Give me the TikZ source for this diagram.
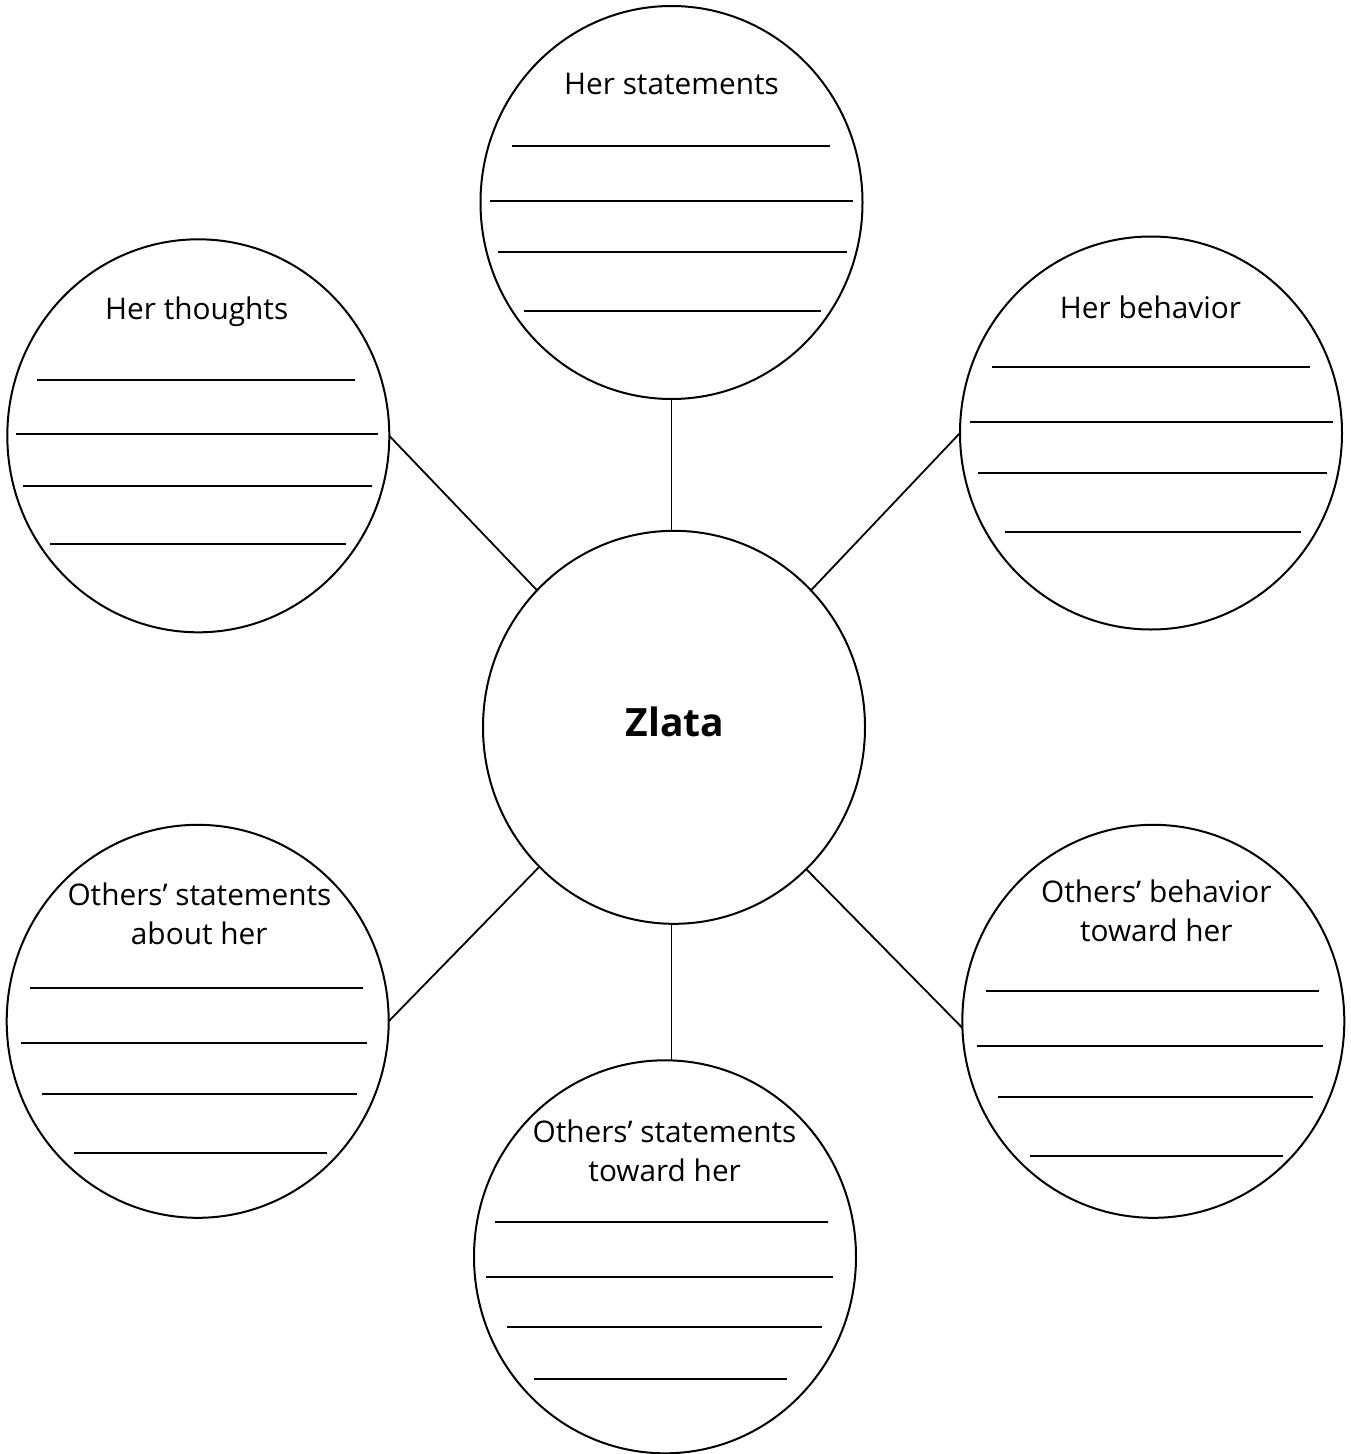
\documentclass[tikz,border=0pt]{standalone}
\usepackage{fontspec}
\setmainfont{Open Sans}
\usetikzlibrary{shapes.geometric}
\begin{document}
\begin{tikzpicture}[x=1pt,y=-1pt,
  bubble/.style={draw, ellipse, line width=2pt, minimum width=382pt, minimum height=393pt, inner sep=0pt, outer sep=0pt},
  lbltext/.style={anchor=base, inner sep=0pt, font=\fontsize{29.8}{35}\selectfont},
  blankline/.style={line width=2.2pt},
  link/.style={line width=1.8pt}]
\useasboundingbox (0,0) rectangle (1351,1454);
% bubbles
\node[bubble] (stmts)   at (671.5,202.5) {};
\node[bubble] (thoughts) at (198.3,435.8) {};
\node[bubble] (behav)   at (1151,433) {};
\node[bubble] (zl)      at (674,727.3) {};
\node[bubble] (about)   at (197.7,1021.3) {};
\node[bubble] (towB)    at (1153.3,1021.3) {};
\node[bubble] (towS)    at (665,1256.8) {};
% connectors
\draw[link] (stmts.south) -- (stmts.south |- zl.north);
\draw[link] (stmts.south |- zl.south) -- (stmts.south |- towS.north);
\draw[link] (thoughts.east) -- (zl.135);
\draw[link] (behav.west) -- (zl.45);
\draw[link] (about.east) -- (zl.226);
\draw[link] (towB.182) -- (zl.313);
% texts
\node[anchor=base, inner sep=0pt, font=\bfseries\fontsize{39}{46}\selectfont] (zltext) at (675,736) {Zlata};
\node[lbltext] (t1) at (671.5,94) {Her statements};
\node[lbltext] (t2) at (196.7,319) {Her thoughts};
\node[lbltext] (t3) at (1150.5,318.3) {Her behavior};
\node[lbltext] (t4a) at (199.5,905) {Others’ statements};
\node[lbltext] (t4b) at (199.2,944.3) {about her};
\node[lbltext] (t5a) at (1156.3,902.7) {Others’ behavior};
\node[lbltext] (t5b) at (1156.3,941.7) {toward her};
\node[lbltext] (t6a) at (664.5,1142.7) {Others’ statements};
\node[lbltext] (t6b) at (664.7,1181) {toward her};
% writing lines
\draw[blankline] (511.7,146) -- (830,146);
\draw[blankline] (490,201) -- (852.7,201);
\draw[blankline] (498.3,252.3) -- (847.3,252.3);
\draw[blankline] (524.3,311.3) -- (820.7,311.3);
\draw[blankline] (36.7,380) -- (355,380);
\draw[blankline] (15.7,434.3) -- (377.7,434.3);
\draw[blankline] (23.3,485.7) -- (372.3,485.7);
\draw[blankline] (50,544.3) -- (346,544.3);
\draw[blankline] (991.7,367) -- (1310,367);
\draw[blankline] (970,422.3) -- (1332.7,422.3);
\draw[blankline] (978.3,473) -- (1327.3,473);
\draw[blankline] (1005,532.3) -- (1300.7,532.3);
\draw[blankline] (30,988.3) -- (363.3,988.3);
\draw[blankline] (20.7,1043.3) -- (367.3,1043.3);
\draw[blankline] (42.3,1094.3) -- (356.7,1094.3);
\draw[blankline] (74,1153) -- (326.7,1153);
\draw[blankline] (986,990.7) -- (1319.3,990.7);
\draw[blankline] (976.7,1046) -- (1323.3,1046);
\draw[blankline] (998.3,1097.3) -- (1312.7,1097.3);
\draw[blankline] (1030,1156) -- (1283.3,1156);
\draw[blankline] (495,1222.3) -- (828.3,1222.3);
\draw[blankline] (485.7,1276.7) -- (832.7,1276.7);
\draw[blankline] (507.3,1327.3) -- (821.7,1327.3);
\draw[blankline] (534,1379.3) -- (787.3,1379.3);
\end{tikzpicture}
\end{document}
